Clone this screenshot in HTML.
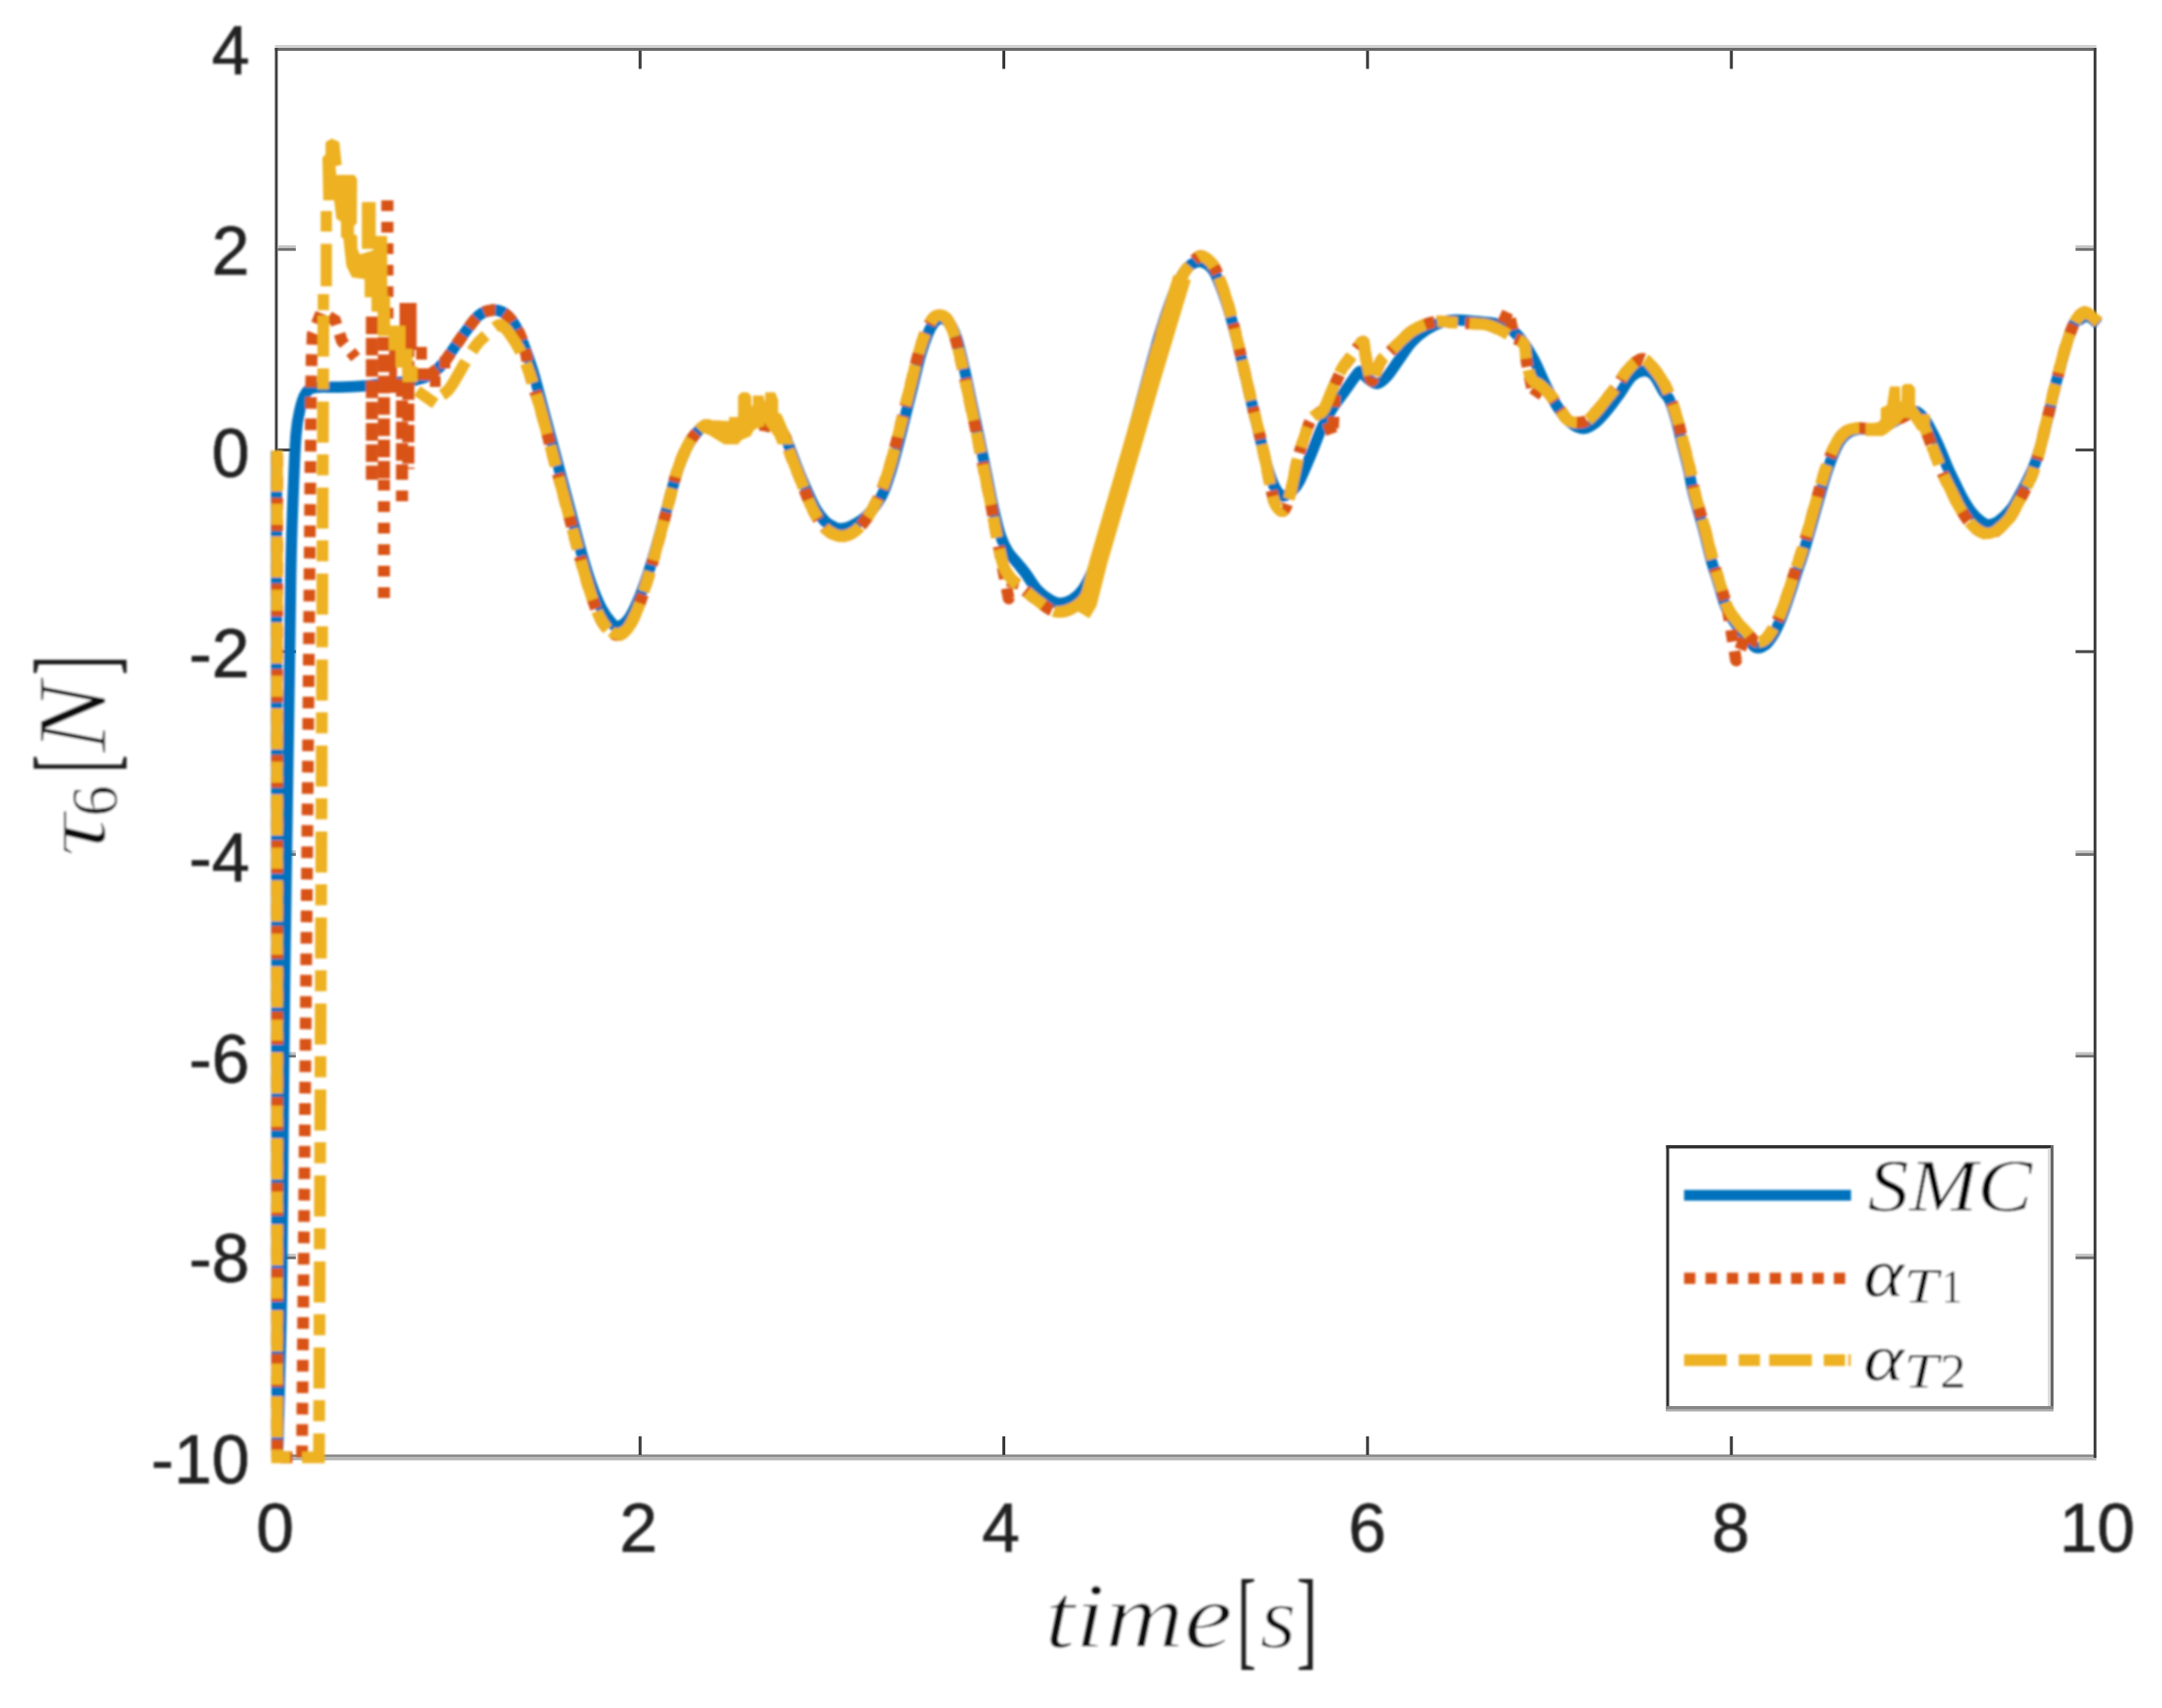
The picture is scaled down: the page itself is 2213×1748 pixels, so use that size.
<!DOCTYPE html>
<html><head><meta charset="utf-8"><title>tau6</title>
<style>
html,body{margin:0;padding:0;background:#fff;}
svg{display:block}
.tk{font-family:"Liberation Sans",sans-serif;font-size:69.5px;fill:#222;stroke:#222;stroke-width:0.7px}
.it{font-family:"Liberation Serif",serif;font-style:italic}
.rm{font-family:"Liberation Serif",serif}
.ln{fill:none;stroke-linejoin:round}
</style></head><body>
<svg width="2213" height="1748" viewBox="0 0 2213 1748">
<defs><filter id="b" x="0" y="0" width="2213" height="1748" filterUnits="userSpaceOnUse"><feGaussianBlur stdDeviation="0.85"/></filter></defs>
<rect width="2213" height="1748" fill="#fff"/>

<rect x="281.4" y="46" width="1864.4" height="3" fill="#d2d2d2"/>
<rect x="281.4" y="49" width="1864.4" height="3" fill="#6a6a6a"/>
<rect x="281.4" y="1488.5" width="1864.4" height="3" fill="#8a8a8a"/>
<rect x="281.4" y="1491.5" width="1864.4" height="3" fill="#b6b6b6"/>
<rect x="281.4" y="49" width="2.9" height="1443" fill="#404040"/>
<rect x="2143" y="49" width="2.9" height="1443" fill="#404040"/>
<rect x="653.7" y="1470" width="3" height="19" fill="#3a3a3a"/>
<rect x="653.7" y="52" width="3" height="18.5" fill="#3a3a3a"/>
<rect x="1026.0" y="1470" width="3" height="19" fill="#3a3a3a"/>
<rect x="1026.0" y="52" width="3" height="18.5" fill="#3a3a3a"/>
<rect x="1398.3" y="1470" width="3" height="19" fill="#3a3a3a"/>
<rect x="1398.3" y="52" width="3" height="18.5" fill="#3a3a3a"/>
<rect x="1770.7" y="1470" width="3" height="19" fill="#3a3a3a"/>
<rect x="1770.7" y="52" width="3" height="18.5" fill="#3a3a3a"/>
<rect x="284.3" y="251.1" width="18.5" height="2.8" fill="#c4c4c4"/>
<rect x="284.3" y="253.9" width="18.5" height="2.8" fill="#707070"/>
<rect x="2124.5" y="251.1" width="18.5" height="2.8" fill="#c4c4c4"/>
<rect x="2124.5" y="253.9" width="18.5" height="2.8" fill="#707070"/>
<rect x="284.3" y="459.0" width="18.5" height="3" fill="#484848"/>
<rect x="2124.5" y="459.0" width="18.5" height="3" fill="#484848"/>
<rect x="284.3" y="665.4" width="18.5" height="3" fill="#484848"/>
<rect x="2124.5" y="665.4" width="18.5" height="3" fill="#484848"/>
<rect x="284.3" y="870.3" width="18.5" height="2.8" fill="#c4c4c4"/>
<rect x="284.3" y="873.1" width="18.5" height="2.8" fill="#707070"/>
<rect x="2124.5" y="870.3" width="18.5" height="2.8" fill="#c4c4c4"/>
<rect x="2124.5" y="873.1" width="18.5" height="2.8" fill="#707070"/>
<rect x="284.3" y="1076.7" width="18.5" height="2.8" fill="#c4c4c4"/>
<rect x="284.3" y="1079.5" width="18.5" height="2.8" fill="#707070"/>
<rect x="2124.5" y="1076.7" width="18.5" height="2.8" fill="#c4c4c4"/>
<rect x="2124.5" y="1079.5" width="18.5" height="2.8" fill="#707070"/>
<rect x="284.3" y="1283.1" width="18.5" height="2.8" fill="#c4c4c4"/>
<rect x="284.3" y="1285.9" width="18.5" height="2.8" fill="#707070"/>
<rect x="2124.5" y="1283.1" width="18.5" height="2.8" fill="#c4c4c4"/>
<rect x="2124.5" y="1285.9" width="18.5" height="2.8" fill="#707070"/>
<rect x="1707" y="1173.7" width="393.5" height="269" fill="#fff"/>
<rect x="1705.5" y="1172" width="396.5" height="3.4" fill="#303030"/>
<rect x="1705.5" y="1172" width="3" height="272" fill="#303030"/>
<rect x="2096" y="1175.4" width="3" height="264" fill="#dcdcdc"/>
<rect x="2099" y="1172" width="3" height="272" fill="#686868"/>
<rect x="1705.5" y="1439" width="396.5" height="3" fill="#858585"/>
<rect x="1705.5" y="1442" width="396.5" height="2.5" fill="#ababab"/>
<g filter="url(#b)">
<g class="ln" stroke-width="11.5">
<path d="M283.0,461.0L283.5,1491.0L284.5,1480.0 M284.5,1480.0C284.8,1466.7 285.8,1430.0 286.5,1400.0C287.2,1370.0 287.7,1366.7 288.5,1300.0C289.3,1233.3 290.2,1100.0 291.5,1000.0C292.8,900.0 294.9,771.7 296.0,700.0C297.1,628.3 297.2,604.2 298.0,570.0C298.8,535.8 299.7,515.8 300.5,495.0C301.3,474.2 302.0,457.5 303.0,445.0C304.0,432.5 305.1,427.1 306.8,420.0C308.4,412.9 310.3,406.4 313.0,402.5C315.7,398.6 317.2,397.5 323.0,396.5C328.8,395.5 339.7,396.5 348.0,396.2C356.3,396.0 365.1,395.6 373.0,395.0C380.9,394.4 387.7,393.3 395.5,392.5C403.3,391.7 412.9,391.2 420.0,390.0C427.1,388.8 432.5,387.9 438.0,385.0C443.5,382.1 448.4,377.5 453.0,372.5C457.6,367.5 461.3,360.8 465.5,355.0C469.7,349.2 473.8,342.9 478.0,337.5C482.2,332.1 486.3,325.8 490.5,322.5C494.7,319.2 498.8,317.9 503.0,317.5C507.2,317.1 511.5,317.5 515.5,320.0C519.5,322.5 523.6,327.1 527.0,332.5C530.4,337.9 532.9,344.6 536.0,352.5C539.1,360.4 542.3,369.6 545.5,380.0C548.7,390.4 551.8,402.9 555.0,415.0C558.2,427.1 561.7,440.0 565.0,452.5C568.3,465.0 571.7,477.5 575.0,490.0C578.3,502.5 581.7,515.0 585.0,527.5C588.3,540.0 591.7,553.3 595.0,565.0C598.3,576.7 601.6,587.9 605.0,597.5C608.4,607.1 612.0,615.8 615.5,622.5C619.0,629.2 623.1,634.4 626.0,637.5C628.9,640.6 630.2,641.6 633.0,641.0C635.8,640.4 639.7,638.3 643.0,634.0C646.3,629.7 649.7,622.7 653.0,615.0C656.3,607.3 659.7,598.0 663.0,588.0C666.3,578.0 669.7,566.5 673.0,555.0C676.3,543.5 679.7,531.0 683.0,519.0C686.3,507.0 689.7,493.2 693.0,483.0C696.3,472.8 699.7,464.7 703.0,458.0C706.3,451.3 709.7,446.7 713.0,443.0C716.3,439.3 718.5,436.3 723.0,436.0C727.5,435.7 734.7,440.2 740.0,441.0C745.3,441.8 750.0,442.2 755.0,441.0C760.0,439.8 765.0,436.3 770.0,434.0C775.0,431.7 780.8,427.3 785.0,427.0C789.2,426.7 791.7,428.2 795.0,432.0C798.3,435.8 801.7,442.7 805.0,450.0C808.3,457.3 811.7,467.7 815.0,476.0C818.3,484.3 821.7,492.5 825.0,500.0C828.3,507.5 831.7,515.3 835.0,521.0C838.3,526.7 841.7,530.8 845.0,534.0C848.3,537.2 852.2,538.8 855.0,540.0C857.8,541.2 859.2,541.3 862.0,541.0C864.8,540.7 867.8,540.2 872.0,538.0C876.2,535.8 881.9,533.1 887.0,528.0C892.1,522.9 898.2,515.5 902.5,507.5C906.8,499.5 909.6,489.2 912.5,480.0C915.4,470.8 917.5,462.1 920.0,452.5C922.5,442.9 925.0,432.5 927.5,422.5C930.0,412.5 932.5,402.5 935.0,392.5C937.5,382.5 940.0,371.1 942.5,362.5C945.0,353.9 947.6,346.6 950.0,341.0C952.4,335.4 954.8,331.5 957.0,329.0C959.2,326.5 961.0,325.7 963.5,326.0C966.0,326.3 969.3,327.5 972.0,331.0C974.7,334.5 977.0,339.3 979.5,347.0C982.0,354.7 984.5,366.2 987.0,377.0C989.5,387.8 992.0,400.3 994.5,412.0C997.0,423.7 999.5,435.0 1002.0,447.0C1004.5,459.0 1007.0,471.7 1009.5,484.0C1012.0,496.3 1014.6,510.3 1017.0,521.0C1019.4,531.7 1021.5,540.7 1024.0,548.0C1026.5,555.3 1029.0,560.2 1032.0,565.0C1035.0,569.8 1039.0,573.3 1042.0,577.0C1045.0,580.7 1046.7,582.5 1050.0,587.0C1053.3,591.5 1057.8,599.5 1062.0,604.0C1066.2,608.5 1071.2,611.8 1075.0,614.0C1078.8,616.2 1081.3,617.5 1085.0,617.5C1088.7,617.5 1093.2,616.2 1097.0,614.0C1100.8,611.8 1104.5,608.8 1108.0,604.0C1111.5,599.2 1114.7,592.8 1118.0,585.0C1121.3,577.2 1124.7,567.3 1128.0,557.0C1131.3,546.7 1134.7,534.8 1138.0,523.0C1141.3,511.2 1144.7,498.3 1148.0,486.0C1151.3,473.7 1154.7,461.5 1158.0,449.0C1161.3,436.5 1164.7,423.5 1168.0,411.0C1171.3,398.5 1174.7,386.0 1178.0,374.0C1181.3,362.0 1184.7,349.8 1188.0,339.0C1191.3,328.2 1194.7,318.0 1198.0,309.0C1201.3,300.0 1204.5,291.3 1208.0,285.0C1211.5,278.7 1215.3,273.8 1219.0,271.0C1222.7,268.2 1226.2,267.0 1230.0,268.0C1233.8,269.0 1238.3,271.7 1242.0,277.0C1245.7,282.3 1249.0,292.0 1252.0,300.0C1255.0,308.0 1257.4,316.0 1260.0,325.0C1262.6,334.0 1265.0,343.8 1267.5,354.0C1270.0,364.2 1272.5,375.3 1275.0,386.0C1277.5,396.7 1280.0,407.5 1282.5,418.0C1285.0,428.5 1287.6,439.2 1290.0,449.0C1292.4,458.8 1294.7,469.0 1297.0,477.0C1299.3,485.0 1301.8,492.2 1304.0,497.0C1306.2,501.8 1308.2,504.2 1310.0,506.0C1311.8,507.8 1313.0,508.0 1315.0,507.5C1317.0,507.0 1319.5,505.5 1322.0,503.0C1324.5,500.5 1326.7,498.8 1330.0,492.5C1333.3,486.2 1338.3,473.8 1342.0,465.0C1345.7,456.2 1348.6,447.5 1352.0,440.0C1355.4,432.5 1358.7,426.2 1362.5,420.0C1366.3,413.8 1370.8,408.3 1375.0,402.5C1379.2,396.7 1384.5,388.8 1387.5,385.0C1390.5,381.2 1390.9,379.6 1393.0,380.0C1395.1,380.4 1397.2,385.4 1400.0,387.5C1402.8,389.6 1406.7,392.9 1410.0,392.5C1413.3,392.1 1416.2,389.2 1420.0,385.0C1423.8,380.8 1428.3,373.3 1432.5,367.5C1436.7,361.7 1440.4,355.0 1445.0,350.0C1449.6,345.0 1455.0,340.8 1460.0,337.5C1465.0,334.2 1470.0,331.7 1475.0,330.0C1480.0,328.3 1483.8,327.7 1490.0,327.5C1496.2,327.3 1505.8,328.4 1512.5,329.0C1519.2,329.6 1524.6,329.8 1530.0,331.0C1535.4,332.2 1540.4,333.2 1545.0,336.0C1549.6,338.8 1553.3,342.7 1557.5,348.0C1561.7,353.3 1565.8,360.2 1570.0,368.0C1574.2,375.8 1578.5,387.0 1582.5,395.0C1586.5,403.0 1589.9,409.8 1594.0,416.0C1598.1,422.2 1602.7,428.2 1607.0,432.0C1611.3,435.8 1615.8,438.3 1620.0,438.5C1624.2,438.7 1628.3,436.1 1632.5,433.0C1636.7,429.9 1640.8,424.9 1645.0,420.0C1649.2,415.1 1653.3,409.2 1657.5,403.5C1661.7,397.8 1665.8,389.5 1670.0,385.5C1674.2,381.5 1679.2,379.8 1683.0,379.5C1686.8,379.2 1689.7,380.4 1693.0,384.0C1696.3,387.6 1700.3,396.8 1703.0,401.0C1705.7,405.2 1706.9,404.8 1709.0,409.5C1711.1,414.2 1713.3,421.4 1715.5,429.0C1717.7,436.6 1719.8,446.3 1722.0,455.0C1724.2,463.7 1726.7,472.9 1728.5,481.0C1730.3,489.1 1730.5,493.6 1733.0,503.7C1735.5,513.8 1740.7,530.4 1743.7,541.8C1746.8,553.2 1748.8,563.0 1751.3,572.2C1753.8,581.4 1756.5,588.9 1759.0,597.0C1761.5,605.1 1763.5,614.0 1766.5,621.0C1769.5,628.0 1773.6,634.0 1777.0,639.0C1780.4,644.0 1783.7,647.1 1787.0,651.0C1790.3,654.9 1793.7,661.0 1797.0,662.5C1800.3,664.0 1803.8,662.4 1807.0,660.0C1810.2,657.6 1813.2,652.7 1816.0,648.0C1818.8,643.3 1821.0,638.2 1823.5,632.0C1826.0,625.8 1828.5,618.3 1831.0,611.0C1833.5,603.7 1836.0,595.7 1838.5,588.0C1841.0,580.3 1843.7,573.2 1846.2,565.0C1848.8,556.8 1851.3,547.8 1853.8,539.0C1856.3,530.2 1858.9,520.8 1861.4,512.0C1863.9,503.2 1866.5,493.8 1869.0,486.0C1871.5,478.2 1874.1,470.9 1876.6,465.0C1879.1,459.1 1881.3,454.3 1884.0,450.5C1886.7,446.7 1889.8,443.9 1893.0,442.0C1896.2,440.1 1899.7,439.5 1903.0,439.0C1906.3,438.5 1909.3,439.2 1913.0,439.0C1916.7,438.8 1920.8,439.2 1925.0,438.0C1929.2,436.8 1933.8,434.2 1938.0,432.0C1942.2,429.8 1946.2,426.8 1950.0,425.0C1953.8,423.2 1957.7,420.3 1961.0,421.0C1964.3,421.7 1967.2,425.3 1970.0,429.0C1972.8,432.7 1975.3,437.8 1978.0,443.0C1980.7,448.2 1983.5,454.3 1986.0,460.0C1988.5,465.7 1990.5,471.3 1993.0,477.0C1995.5,482.7 1998.3,488.5 2001.0,494.0C2003.7,499.5 2006.2,505.0 2009.0,510.0C2011.8,515.0 2015.0,520.2 2018.0,524.0C2021.0,527.8 2024.2,530.8 2027.0,533.0C2029.8,535.2 2032.3,536.7 2035.0,537.0C2037.7,537.3 2040.3,536.3 2043.0,535.0C2045.7,533.7 2048.2,531.5 2051.0,529.0C2053.8,526.5 2056.8,523.7 2059.5,520.0C2062.2,516.3 2064.4,511.7 2067.0,507.0C2069.6,502.3 2072.5,497.0 2075.0,492.0C2077.5,487.0 2079.8,482.5 2082.0,477.0C2084.2,471.5 2086.2,464.8 2088.0,459.0C2089.8,453.2 2091.1,447.5 2092.5,442.0C2093.9,436.5 2095.2,431.3 2096.5,426.0C2097.8,420.7 2099.1,415.3 2100.3,410.0C2101.6,404.7 2102.7,399.3 2104.0,394.0C2105.3,388.7 2107.0,383.0 2108.3,378.0C2109.6,373.0 2110.6,369.0 2112.0,364.0C2113.4,359.0 2114.6,353.7 2116.5,348.0C2118.4,342.3 2121.4,333.5 2123.5,330.0C2125.6,326.5 2127.2,328.1 2129.0,327.0C2130.8,325.9 2132.5,323.7 2134.5,323.5C2136.5,323.3 2138.8,324.6 2141.0,326.0C2143.2,327.4 2146.8,331.0 2148.0,332.0" stroke="#0072BD"/>
<path d="M438.0,385.0C440.5,382.9 448.4,377.5 453.0,372.5C457.6,367.5 461.3,360.8 465.5,355.0C469.7,349.2 473.8,342.9 478.0,337.5C482.2,332.1 486.3,325.8 490.5,322.5C494.7,319.2 498.8,317.9 503.0,317.5C507.2,317.1 511.5,317.5 515.5,320.0C519.5,322.5 523.6,327.1 527.0,332.5C530.4,337.9 533.3,343.8 536.0,352.5C538.7,361.2 540.2,374.2 543.0,385.0C545.8,395.8 549.7,405.8 553.0,417.5C556.3,429.2 559.7,442.5 563.0,455.0C566.3,467.5 569.7,480.0 573.0,492.5C576.3,505.0 579.7,517.5 583.0,530.0C586.3,542.5 589.7,555.4 593.0,567.5C596.3,579.6 599.7,592.1 603.0,602.5C606.3,612.9 609.7,622.9 613.0,630.0C616.3,637.1 619.7,641.7 623.0,645.0C626.3,648.3 629.7,650.4 633.0,650.0C636.3,649.6 639.7,647.1 643.0,642.5C646.3,637.9 649.7,630.8 653.0,622.5C656.3,614.2 659.7,603.3 663.0,592.5C666.3,581.7 669.7,569.6 673.0,557.5C676.3,545.4 679.7,532.5 683.0,520.0C686.3,507.5 689.7,492.9 693.0,482.5C696.3,472.1 699.7,464.2 703.0,457.5C706.3,450.8 709.7,446.2 713.0,442.5C716.3,438.8 719.7,435.4 723.0,435.0C726.3,434.6 729.2,437.9 733.0,440.0C736.8,442.1 741.8,447.5 745.5,447.5C749.2,447.5 750.9,442.2 755.0,440.0C759.1,437.8 762.5,433.7 770.0,434.0C777.5,434.3 793.3,436.4 800.0,442.0C806.7,447.6 806.7,459.1 810.0,467.5C813.3,475.9 816.7,484.2 820.0,492.5C823.3,500.8 826.7,510.4 830.0,517.5C833.3,524.6 836.7,530.4 840.0,535.0C843.3,539.6 846.2,542.7 850.0,545.0C853.8,547.3 858.3,549.0 862.5,548.8C866.7,548.5 870.8,546.9 875.0,543.8C879.2,540.6 883.3,536.0 887.5,530.0C891.7,524.0 896.2,515.8 900.0,507.5C903.8,499.2 907.1,489.2 910.0,480.0C912.9,470.8 915.0,462.1 917.5,452.5C920.0,442.9 922.5,432.5 925.0,422.5C927.5,412.5 930.0,402.5 932.5,392.5C935.0,382.5 937.5,371.2 940.0,362.5C942.5,353.8 945.0,346.1 947.5,340.0C950.0,333.9 952.5,328.9 955.0,326.0C957.5,323.1 960.0,322.2 962.5,322.5C965.0,322.8 967.5,323.8 970.0,327.5C972.5,331.2 975.0,337.1 977.5,345.0C980.0,352.9 982.5,364.2 985.0,375.0C987.5,385.8 990.0,398.3 992.5,410.0C995.0,421.7 997.5,432.9 1000.0,445.0C1002.5,457.1 1005.0,470.0 1007.5,482.5C1010.0,495.0 1012.8,508.3 1015.0,520.0C1017.2,531.7 1020.0,547.1 1021.0,552.5L1032.5,612.5L1037.5,595.0L1037.5,595.0C1039.6,596.7 1045.8,601.7 1050.0,605.0C1054.2,608.3 1058.3,611.9 1062.5,615.0C1066.7,618.1 1071.2,621.9 1075.0,623.8C1078.8,625.6 1081.2,626.5 1085.0,626.2C1088.8,626.0 1093.3,624.8 1097.5,622.5C1101.7,620.2 1106.2,617.9 1110.0,612.5C1113.8,607.1 1116.7,599.2 1120.0,590.0C1123.3,580.8 1126.7,568.8 1130.0,557.5C1133.3,546.2 1136.7,534.6 1140.0,522.5C1143.3,510.4 1146.7,497.5 1150.0,485.0C1153.3,472.5 1156.7,460.0 1160.0,447.5C1163.3,435.0 1166.7,422.5 1170.0,410.0C1173.3,397.5 1176.7,384.6 1180.0,372.5C1183.3,360.4 1186.7,348.3 1190.0,337.5C1193.3,326.7 1196.7,316.7 1200.0,307.5C1203.3,298.3 1206.2,289.4 1210.0,282.5C1213.8,275.6 1219.0,269.3 1222.5,266.0C1226.0,262.7 1227.7,261.4 1231.0,262.5C1234.3,263.6 1238.9,266.7 1242.5,272.5C1246.1,278.3 1249.6,289.2 1252.5,297.5C1255.4,305.8 1257.5,313.3 1260.0,322.5C1262.5,331.7 1265.0,342.1 1267.5,352.5C1270.0,362.9 1272.5,374.2 1275.0,385.0C1277.5,395.8 1280.0,407.1 1282.5,417.5C1285.0,427.9 1287.8,437.9 1290.0,447.5C1292.2,457.1 1294.2,466.2 1296.0,475.0C1297.8,483.8 1299.3,492.9 1301.0,500.0C1302.7,507.1 1303.8,513.8 1306.0,517.5C1308.2,521.2 1311.7,524.1 1314.0,522.5C1316.3,520.9 1318.3,513.4 1320.0,508.0C1321.7,502.6 1322.5,496.7 1324.0,490.0C1325.5,483.3 1326.9,475.0 1328.7,468.0C1330.5,461.0 1332.9,454.3 1335.0,448.0C1337.1,441.7 1339.3,434.0 1341.5,430.0C1343.7,426.0 1345.8,425.7 1348.0,424.0C1350.2,422.3 1353.3,420.7 1354.4,420.0L1364.0,446.0L1367.0,392.0L1373.8,377.0C1375.3,375.0 1380.1,368.7 1382.8,365.0C1385.5,361.3 1387.8,357.5 1390.0,355.0C1392.2,352.5 1394.4,348.3 1395.7,350.0C1397.0,351.7 1396.7,358.5 1398.0,365.0C1399.3,371.5 1401.7,386.2 1403.4,389.0C1405.1,391.8 1406.3,385.3 1408.0,382.0C1409.7,378.7 1411.2,372.7 1413.7,369.0C1416.2,365.3 1418.8,363.8 1422.7,360.0C1426.6,356.2 1433.2,349.5 1436.9,346.0C1440.6,342.5 1441.6,341.2 1445.0,339.0C1448.4,336.8 1452.9,334.2 1457.5,332.5C1462.1,330.8 1467.5,329.2 1472.5,328.8C1477.5,328.3 1482.1,329.6 1487.5,330.0C1492.9,330.4 1499.2,330.6 1505.0,331.0C1510.8,331.4 1517.5,331.4 1522.5,332.5C1527.5,333.6 1532.9,336.7 1535.0,337.5L1544.0,318.0L1550.0,346.0L1550.0,346.0C1551.7,347.1 1557.9,348.5 1560.0,352.5C1562.1,356.5 1562.1,367.1 1562.5,370.0L1570.0,406.0L1577.5,395.0L1577.5,395.0C1579.2,396.7 1584.2,400.8 1587.5,405.0C1590.8,409.2 1594.6,415.8 1597.5,420.0C1600.4,424.2 1602.1,427.9 1605.0,430.0C1607.9,432.1 1611.7,432.5 1615.0,432.5C1618.3,432.5 1621.7,432.1 1625.0,430.0C1628.3,427.9 1631.7,423.8 1635.0,420.0C1638.3,416.2 1641.7,411.7 1645.0,407.5C1648.3,403.3 1651.7,399.6 1655.0,395.0C1658.3,390.4 1661.7,384.2 1665.0,380.0C1668.3,375.8 1672.0,372.1 1675.0,370.0C1678.0,367.9 1680.0,366.2 1683.0,367.5C1686.0,368.8 1689.7,373.4 1693.0,377.5C1696.3,381.6 1700.1,386.7 1703.0,392.0C1705.9,397.3 1708.3,403.3 1710.6,409.5C1712.9,415.7 1714.8,421.4 1717.0,429.0C1719.2,436.6 1721.3,446.3 1723.5,455.0C1725.7,463.7 1728.2,472.9 1730.0,481.0C1731.8,489.1 1732.1,493.6 1734.6,503.7C1737.1,513.8 1742.2,530.4 1745.2,541.8C1748.2,553.2 1750.3,563.0 1752.8,572.2C1755.3,581.4 1757.9,588.9 1760.4,597.0C1762.9,605.1 1766.7,616.9 1768.0,620.9L1777.0,676.0L1788.0,647.0L1788.0,647.0C1789.5,648.6 1794.0,655.2 1797.0,656.5C1800.0,657.8 1803.2,656.9 1806.0,655.0C1808.8,653.1 1811.5,649.0 1814.0,645.0C1816.5,641.0 1818.8,636.8 1821.3,631.0C1823.8,625.2 1826.5,617.6 1829.0,610.3C1831.5,603.0 1834.0,595.0 1836.5,587.4C1839.0,579.8 1841.7,572.7 1844.2,564.6C1846.8,556.5 1849.3,547.6 1851.8,538.7C1854.3,529.8 1856.9,520.2 1859.4,511.3C1861.9,502.4 1864.5,493.3 1867.0,485.4C1869.5,477.5 1872.1,470.2 1874.6,464.1C1877.1,458.0 1879.4,452.9 1882.2,449.0C1885.0,445.1 1888.0,442.3 1891.3,440.5C1894.6,438.7 1898.4,438.3 1902.0,438.0C1905.6,437.7 1909.1,438.8 1913.0,438.8C1916.9,438.7 1922.2,439.0 1925.5,437.5C1928.8,436.0 1929.8,431.6 1933.0,430.0C1936.2,428.4 1940.8,429.2 1945.0,428.0C1949.2,426.8 1955.0,422.3 1958.0,422.5C1961.0,422.7 1961.0,426.5 1963.0,429.0C1965.0,431.5 1967.6,433.4 1969.8,437.5C1972.0,441.6 1974.2,448.4 1976.4,453.9C1978.6,459.4 1980.8,464.8 1983.0,470.3C1985.2,475.8 1987.0,481.2 1989.5,486.7C1992.0,492.2 1995.0,497.6 1997.7,503.1C2000.4,508.6 2002.9,514.3 2005.9,519.5C2008.9,524.7 2012.4,530.3 2015.7,534.3C2019.0,538.3 2022.5,541.3 2025.6,543.3C2028.7,545.3 2031.7,546.3 2034.4,546.5C2037.1,546.7 2039.6,545.8 2042.0,544.5C2044.4,543.2 2046.4,541.0 2049.0,538.5C2051.6,536.0 2054.8,533.2 2057.5,529.5C2060.2,525.8 2062.4,521.0 2065.0,516.2C2067.6,511.5 2070.5,506.0 2073.0,501.0C2075.5,496.0 2077.9,491.6 2080.0,486.0C2082.1,480.4 2084.1,473.4 2085.8,467.7C2087.5,462.0 2088.7,457.3 2090.0,452.0C2091.3,446.7 2092.3,441.3 2093.6,436.0C2094.9,430.7 2096.4,425.3 2097.7,420.0C2099.0,414.7 2099.9,409.5 2101.3,404.0C2102.7,398.5 2104.5,392.3 2105.9,387.0C2107.3,381.7 2108.1,377.2 2109.5,372.0C2110.9,366.8 2112.1,361.9 2114.1,355.6C2116.1,349.3 2119.3,339.5 2121.5,334.3C2123.7,329.1 2125.1,326.9 2127.2,324.4C2129.2,321.9 2131.6,319.8 2133.8,319.5C2136.0,319.2 2137.9,321.1 2140.3,322.8C2142.7,324.6 2146.7,328.8 2148.0,330.0" stroke="#D95319" stroke-dasharray="12 9.9" stroke-width="12"/>
<path d="M283.7,461.0L283.7,1491.5L309.1,1491.5L318.5,392.0L319.0,365.0L320.0,342.0L329.0,319.5L343.0,328.0L350.0,349.0L364.0,366.0" stroke="#D95319" stroke-dasharray="12 9.9" stroke-dashoffset="-4.8" stroke-width="12" stroke-linejoin="miter"/><g stroke="#D95319" stroke-width="12.4"><path d="M380.7,323V491" stroke-dasharray="18 3.8" stroke-dashoffset="-1"/><path d="M393,345V491" stroke-dasharray="18 3.8" stroke-dashoffset="4"/><path d="M393,491V616" stroke-dasharray="11 11" stroke-dashoffset="0"/><path d="M396.5,205V335" stroke-dasharray="11 11"/><path d="M402.3,343V402" stroke-width="8"/><path d="M417.7,310V358" stroke-width="17.5"/><path d="M411.5,388V491M411.5,502V513" stroke-dasharray="18 3.8"/><path d="M418,310V480" stroke-dasharray="18 3.8" stroke-dashoffset="6"/></g><g fill="#D95319"><rect x="426" y="355" width="11" height="13"/><rect x="427" y="377" width="13" height="12"/><rect x="440" y="385" width="11" height="11"/><rect x="450" y="365" width="11" height="12"/></g>
<path d="M283.6,461.0L283.6,1491.5L326.5,1491.5L331.0,322.0" stroke="#EDB120" stroke-dasharray="42 12.5 21.5 12" stroke-linejoin="miter" stroke-width="12"/>
<path d="M444.0,409.0C446.3,407.5 454.0,404.0 458.0,400.0C462.0,396.0 464.7,390.4 468.0,385.0C471.3,379.6 474.7,372.9 478.0,367.5C481.3,362.1 484.7,356.7 488.0,352.5C491.3,348.3 494.7,345.6 498.0,342.5C501.3,339.4 505.5,335.6 508.0,334.0C510.5,332.4 510.9,332.0 513.0,333.0C515.1,334.0 517.2,335.5 520.5,340.0C523.8,344.5 529.2,352.5 533.0,360.0C536.8,367.5 539.7,375.4 543.0,385.0C546.3,394.6 549.7,405.8 553.0,417.5C556.3,429.2 559.7,442.5 563.0,455.0C566.3,467.5 569.7,480.0 573.0,492.5C576.3,505.0 579.7,517.5 583.0,530.0C586.3,542.5 589.7,555.4 593.0,567.5C596.3,579.6 599.7,592.1 603.0,602.5C606.3,612.9 609.7,622.9 613.0,630.0C616.3,637.1 619.7,641.7 623.0,645.0C626.3,648.3 629.7,650.4 633.0,650.0C636.3,649.6 639.7,647.1 643.0,642.5C646.3,637.9 649.7,630.8 653.0,622.5C656.3,614.2 659.7,603.3 663.0,592.5C666.3,581.7 669.7,569.6 673.0,557.5C676.3,545.4 679.7,532.5 683.0,520.0C686.3,507.5 689.7,492.9 693.0,482.5C696.3,472.1 699.7,464.2 703.0,457.5C706.3,450.8 709.7,446.2 713.0,442.5C716.3,438.8 719.7,435.4 723.0,435.0C726.3,434.6 729.2,437.9 733.0,440.0C736.8,442.1 741.8,447.5 745.5,447.5C749.2,447.5 753.4,441.2 755.0,440.0L775.0,432.0L790.0,428.0L800.0,442.0L800.0,442.0C801.7,446.2 806.7,459.1 810.0,467.5C813.3,475.9 816.7,484.2 820.0,492.5C823.3,500.8 826.7,510.4 830.0,517.5C833.3,524.6 836.7,530.4 840.0,535.0C843.3,539.6 846.2,542.7 850.0,545.0C853.8,547.3 858.3,549.0 862.5,548.8C866.7,548.5 870.8,546.9 875.0,543.8C879.2,540.6 883.3,536.0 887.5,530.0C891.7,524.0 896.2,515.8 900.0,507.5C903.8,499.2 907.1,489.2 910.0,480.0C912.9,470.8 915.0,462.1 917.5,452.5C920.0,442.9 922.5,432.5 925.0,422.5C927.5,412.5 930.0,402.5 932.5,392.5C935.0,382.5 937.5,371.2 940.0,362.5C942.5,353.8 945.0,346.1 947.5,340.0C950.0,333.9 952.5,328.9 955.0,326.0C957.5,323.1 960.0,322.2 962.5,322.5C965.0,322.8 967.5,323.8 970.0,327.5C972.5,331.2 975.0,337.1 977.5,345.0C980.0,352.9 982.5,364.2 985.0,375.0C987.5,385.8 990.0,398.3 992.5,410.0C995.0,421.7 997.5,432.9 1000.0,445.0C1002.5,457.1 1005.0,470.0 1007.5,482.5C1010.0,495.0 1012.8,508.3 1015.0,520.0C1017.2,531.7 1018.9,542.5 1021.0,552.5C1023.1,562.5 1024.8,572.9 1027.5,580.0C1030.2,587.1 1033.8,590.8 1037.5,595.0C1041.2,599.2 1045.8,601.7 1050.0,605.0C1054.2,608.3 1058.3,611.9 1062.5,615.0C1066.7,618.1 1071.2,621.9 1075.0,623.8C1078.8,625.6 1081.2,626.5 1085.0,626.2C1088.8,626.0 1093.3,624.8 1097.5,622.5C1101.7,620.2 1106.2,617.9 1110.0,612.5C1113.8,607.1 1116.7,599.2 1120.0,590.0C1123.3,580.8 1126.7,568.8 1130.0,557.5C1133.3,546.2 1136.7,534.6 1140.0,522.5C1143.3,510.4 1146.7,497.5 1150.0,485.0C1153.3,472.5 1156.7,460.0 1160.0,447.5C1163.3,435.0 1166.7,422.5 1170.0,410.0C1173.3,397.5 1176.7,384.6 1180.0,372.5C1183.3,360.4 1186.7,348.3 1190.0,337.5C1193.3,326.7 1196.7,316.7 1200.0,307.5C1203.3,298.3 1206.2,289.4 1210.0,282.5C1213.8,275.6 1219.0,269.3 1222.5,266.0C1226.0,262.7 1227.7,261.4 1231.0,262.5C1234.3,263.6 1238.9,266.7 1242.5,272.5C1246.1,278.3 1249.6,289.2 1252.5,297.5C1255.4,305.8 1257.5,313.3 1260.0,322.5C1262.5,331.7 1265.0,342.1 1267.5,352.5C1270.0,362.9 1272.5,374.2 1275.0,385.0C1277.5,395.8 1280.0,407.1 1282.5,417.5C1285.0,427.9 1287.8,437.9 1290.0,447.5C1292.2,457.1 1294.2,466.2 1296.0,475.0C1297.8,483.8 1299.3,492.9 1301.0,500.0C1302.7,507.1 1303.8,513.8 1306.0,517.5C1308.2,521.2 1311.7,524.1 1314.0,522.5C1316.3,520.9 1318.3,513.4 1320.0,508.0C1321.7,502.6 1322.5,496.7 1324.0,490.0C1325.5,483.3 1326.9,475.0 1328.7,468.0C1330.5,461.0 1332.9,454.3 1335.0,448.0C1337.1,441.7 1339.3,434.0 1341.5,430.0C1343.7,426.0 1345.8,425.7 1348.0,424.0C1350.2,422.3 1351.7,424.3 1354.4,420.0C1357.1,415.7 1360.8,405.2 1364.0,398.0C1367.2,390.8 1370.7,382.5 1373.8,377.0C1376.9,371.5 1380.1,368.7 1382.8,365.0C1385.5,361.3 1387.8,357.5 1390.0,355.0C1392.2,352.5 1394.4,348.3 1395.7,350.0C1397.0,351.7 1396.7,358.5 1398.0,365.0C1399.3,371.5 1401.7,386.2 1403.4,389.0C1405.1,391.8 1406.3,385.3 1408.0,382.0C1409.7,378.7 1411.2,372.7 1413.7,369.0C1416.2,365.3 1418.8,363.8 1422.7,360.0C1426.6,356.2 1433.2,349.5 1436.9,346.0C1440.6,342.5 1441.6,341.2 1445.0,339.0C1448.4,336.8 1452.9,334.2 1457.5,332.5C1462.1,330.8 1467.5,329.2 1472.5,328.8C1477.5,328.3 1482.1,329.6 1487.5,330.0C1492.9,330.4 1499.2,330.6 1505.0,331.0C1510.8,331.4 1517.5,331.4 1522.5,332.5C1527.5,333.6 1530.4,335.2 1535.0,337.5C1539.6,339.8 1545.8,343.5 1550.0,346.0C1554.2,348.5 1557.9,348.5 1560.0,352.5C1562.1,356.5 1561.2,364.2 1562.5,370.0C1563.8,375.8 1565.0,383.3 1567.5,387.5C1570.0,391.7 1574.2,392.1 1577.5,395.0C1580.8,397.9 1584.2,400.8 1587.5,405.0C1590.8,409.2 1594.6,415.8 1597.5,420.0C1600.4,424.2 1602.1,427.9 1605.0,430.0C1607.9,432.1 1611.7,432.5 1615.0,432.5C1618.3,432.5 1621.7,432.1 1625.0,430.0C1628.3,427.9 1631.7,423.8 1635.0,420.0C1638.3,416.2 1641.7,411.7 1645.0,407.5C1648.3,403.3 1651.7,399.6 1655.0,395.0C1658.3,390.4 1661.7,384.2 1665.0,380.0C1668.3,375.8 1672.0,372.1 1675.0,370.0C1678.0,367.9 1680.0,366.2 1683.0,367.5C1686.0,368.8 1689.7,373.4 1693.0,377.5C1696.3,381.6 1700.1,386.7 1703.0,392.0C1705.9,397.3 1708.3,403.3 1710.6,409.5C1712.9,415.7 1714.8,421.4 1717.0,429.0C1719.2,436.6 1721.3,446.3 1723.5,455.0C1725.7,463.7 1728.2,472.9 1730.0,481.0C1731.8,489.1 1732.1,493.6 1734.6,503.7C1737.1,513.8 1742.2,530.4 1745.2,541.8C1748.2,553.2 1750.3,563.0 1752.8,572.2C1755.3,581.4 1757.9,588.9 1760.4,597.0C1762.9,605.1 1765.0,614.2 1768.0,620.9C1771.0,627.6 1775.4,632.6 1778.7,637.0C1782.0,641.4 1785.0,643.8 1788.0,647.0C1791.0,650.2 1794.0,655.2 1797.0,656.5C1800.0,657.8 1803.2,656.9 1806.0,655.0C1808.8,653.1 1811.5,649.0 1814.0,645.0C1816.5,641.0 1818.8,636.8 1821.3,631.0C1823.8,625.2 1826.5,617.6 1829.0,610.3C1831.5,603.0 1834.0,595.0 1836.5,587.4C1839.0,579.8 1841.7,572.7 1844.2,564.6C1846.8,556.5 1849.3,547.6 1851.8,538.7C1854.3,529.8 1856.9,520.2 1859.4,511.3C1861.9,502.4 1864.5,493.3 1867.0,485.4C1869.5,477.5 1872.1,470.2 1874.6,464.1C1877.1,458.0 1879.4,452.9 1882.2,449.0C1885.0,445.1 1888.0,442.3 1891.3,440.5C1894.6,438.7 1898.4,438.3 1902.0,438.0C1905.6,437.7 1909.1,438.8 1913.0,438.8C1916.9,438.7 1922.2,439.0 1925.5,437.5C1928.8,436.0 1931.8,431.2 1933.0,430.0L1945.0,420.0L1958.0,422.5L1958.0,422.5C1958.8,423.6 1961.0,426.5 1963.0,429.0C1965.0,431.5 1967.6,433.4 1969.8,437.5C1972.0,441.6 1974.2,448.4 1976.4,453.9C1978.6,459.4 1980.8,464.8 1983.0,470.3C1985.2,475.8 1987.0,481.2 1989.5,486.7C1992.0,492.2 1995.0,497.6 1997.7,503.1C2000.4,508.6 2002.9,514.3 2005.9,519.5C2008.9,524.7 2012.4,530.3 2015.7,534.3C2019.0,538.3 2022.5,541.3 2025.6,543.3C2028.7,545.3 2031.7,546.3 2034.4,546.5C2037.1,546.7 2039.6,545.8 2042.0,544.5C2044.4,543.2 2046.4,541.0 2049.0,538.5C2051.6,536.0 2054.8,533.2 2057.5,529.5C2060.2,525.8 2062.4,521.0 2065.0,516.2C2067.6,511.5 2070.5,506.0 2073.0,501.0C2075.5,496.0 2077.9,491.6 2080.0,486.0C2082.1,480.4 2084.1,473.4 2085.8,467.7C2087.5,462.0 2088.7,457.3 2090.0,452.0C2091.3,446.7 2092.3,441.3 2093.6,436.0C2094.9,430.7 2096.4,425.3 2097.7,420.0C2099.0,414.7 2099.9,409.5 2101.3,404.0C2102.7,398.5 2104.5,392.3 2105.9,387.0C2107.3,381.7 2108.1,377.2 2109.5,372.0C2110.9,366.8 2112.1,361.9 2114.1,355.6C2116.1,349.3 2119.3,339.5 2121.5,334.3C2123.7,329.1 2125.1,326.9 2127.2,324.4C2129.2,321.9 2131.6,319.8 2133.8,319.5C2136.0,319.2 2137.9,321.1 2140.3,322.8C2142.7,324.6 2146.7,328.8 2148.0,330.0" stroke="#EDB120" stroke-dasharray="42 12.5 21.5 12" stroke-dashoffset="78" stroke-width="12"/>
<path d="M718.9,431.1L734.4,431.1L747.0,431.8L747.0,427.4L756.2,427.4L756.2,405.5L759.2,402.2L765.1,402.2L768.1,405.5L768.5,416.3L771.4,416.3L771.4,405.5L781.0,405.5L781.8,411.1L784.0,411.1L784.0,402.2L792.9,402.2L795.8,409.6L795.8,422.9L799.2,424.4L802.5,431.8L805.5,439.2L811.4,454.0L799.5,454.0L796.6,454.0L793.6,446.6L787.7,438.5L782.5,431.8L777.3,434.8L771.4,439.2L767.7,445.9L758.8,449.6L755.1,454.0L741.8,454.0L734.4,449.6L727.0,445.1L721.8,442.9L718.9,437.7ZM1910.3,433.7L1925.9,433.7L1925.9,418.1L1932.2,415.2L1935.1,396.3L1944.0,396.3L1944.4,411.5L1947.0,411.5L1947.3,395.9L1949.9,393.7L1956.2,393.7L1959.6,397.4L1959.6,415.2L1963.6,421.8L1963.6,424.8L1974.7,424.8L1974.7,433.7L1971.8,439.6L1963.3,439.6L1959.9,433.7L1956.2,427.0L1948.1,427.0L1943.6,432.9L1931.8,442.5L1926.6,445.5L1910.3,445.5Z" fill="#EDB120" stroke="#EDB120" stroke-width="1.5"/><path d="M1107,628L1113.7,617L1124.3,575L1142.7,512L1161.2,448.6L1179.5,385.4L1198.5,322L1210,284" stroke="#EDB120" stroke-width="18.5"/><path d="M331,317.5V301M334,293V249.5M334,237V216M427,400L445.5,413M2126,326L2133.8,319.5L2140.3,322.8L2148,330M2027,544Q2035,549 2046,541.5M625.5,646.5Q633,652 641.5,644" stroke-linejoin="round" fill="none" stroke="#EDB120" stroke-width="11.5"/><path d="M339.5,142.6L346.6,145.8L349.0,167.9L342.7,169.5L343.5,179.8L362.4,179.8L364.8,183.7L364.5,228.0L361.6,231.2L361.6,240.6L364.8,241.4L365.1,254.9L368.0,261.2L383.0,256.8L383.0,254.1L371.1,254.1L371.1,207.4L383.8,207.4L383.8,242.2L395.6,242.2L395.6,288.1L396.0,303.4L398.6,303.4L398.6,334.0L414.4,334.0L414.4,357.8L421.5,357.8L421.5,375.4L426.7,375.4L426.7,390.3L412.7,390.3L412.7,375.4L405.6,375.4L405.6,357.8L398.6,357.8L398.6,342.9L387.2,342.9L387.2,318.3L381.0,318.3L381.0,303.4L374.0,303.4L374.0,284.9L360.9,283.3L355.3,272.2L352.2,243.8L349.8,242.2L349.8,226.4L345.0,223.3L342.7,204.3L331.6,204.3L330.8,161.6L334.0,158.4L334.0,145.8Z" fill="#EDB120" stroke="#EDB120" stroke-width="1.5"/>
</g>
<path d="M1723.8,1223.3H1894.7" stroke="#0072BD" stroke-width="11" fill="none"/>
<path d="M1723.8,1308.2H1894.7" stroke="#D95319" stroke-width="11.5" stroke-dasharray="11.6 10.3" fill="none"/>
<path d="M1723.8,1392H1894.7" stroke="#EDB120" stroke-width="12" stroke-dasharray="43.7 12.2 21.8 9.4" fill="none"/>
<rect x="1891.6" y="1386" width="3.1" height="12" fill="#EDB120" opacity="0.8"/>
<text class="it" transform="translate(1911.76,1238.99) scale(0.8425,0.7552)" font-size="100" fill="#000" stroke="#fff" stroke-width="0.9" vector-effect="non-scaling-stroke">SMC</text>
<text class="it" transform="translate(1907.53,1326.01) scale(0.7902,0.6896)" font-size="100" fill="#000" stroke="#fff" stroke-width="0.6" vector-effect="non-scaling-stroke">α</text>
<text class="it" transform="translate(1948.75,1333.20) scale(0.6352,0.5031)" font-size="100" fill="#000" stroke="#fff" stroke-width="0.6" vector-effect="non-scaling-stroke">T</text>
<text class="rm" transform="translate(1987.14,1333.20) scale(0.4286,0.4803)" font-size="100" fill="#000" stroke="#fff" stroke-width="0.6" vector-effect="non-scaling-stroke">1</text>
<text class="it" transform="translate(1907.53,1411.82) scale(0.7902,0.6771)" font-size="100" fill="#000" stroke="#fff" stroke-width="0.6" vector-effect="non-scaling-stroke">α</text>
<text class="it" transform="translate(1948.75,1419.80) scale(0.6352,0.5046)" font-size="100" fill="#000" stroke="#fff" stroke-width="0.6" vector-effect="non-scaling-stroke">T</text>
<text class="rm" transform="translate(1985.86,1419.80) scale(0.5350,0.5046)" font-size="100" fill="#000" stroke="#fff" stroke-width="0.6" vector-effect="non-scaling-stroke">2</text>
<text class="it" transform="translate(1069.13,1686.26) scale(1.1181,0.9424)" font-size="100" fill="#0a0a0a" stroke="#fff" stroke-width="1.5" vector-effect="non-scaling-stroke">time</text>
<text class="rm" transform="translate(1266.55,1693.92) scale(0.5783,1.1293)" font-size="100" fill="#1a1a1a" stroke="#fff" stroke-width="0" vector-effect="non-scaling-stroke">[</text>
<text class="it" transform="translate(1289.43,1686.39) scale(0.9657,0.9062)" font-size="100" fill="#0a0a0a" stroke="#fff" stroke-width="1.5" vector-effect="non-scaling-stroke">s</text>
<text class="rm" transform="translate(1327.12,1693.92) scale(0.6455,1.1293)" font-size="100" fill="#1a1a1a" stroke="#fff" stroke-width="0" vector-effect="non-scaling-stroke">]</text>
<g transform="translate(107.5,875) rotate(-90)">
<text class="it" transform="translate(-2.74,0.08) scale(1.2676,0.9234)" font-size="100" fill="#0a0a0a" stroke="#fff" stroke-width="2.3" vector-effect="non-scaling-stroke">τ</text>
<text class="rm" transform="translate(39.23,12.45) scale(0.6419,0.6731)" font-size="100" fill="#0a0a0a" stroke="#fff" stroke-width="1.0" vector-effect="non-scaling-stroke">6</text>
<text class="rm" transform="translate(84.20,6.72) scale(0.5435,1.1366)" font-size="100" fill="#1a1a1a" stroke="#fff" stroke-width="0" vector-effect="non-scaling-stroke">[</text>
<text class="it" transform="translate(104.49,0.50) scale(1.0931,1.0262)" font-size="100" fill="#0a0a0a" stroke="#fff" stroke-width="1.5" vector-effect="non-scaling-stroke">N</text>
<text class="rm" transform="translate(183.96,6.72) scale(0.6091,1.1366)" font-size="100" fill="#1a1a1a" stroke="#fff" stroke-width="0" vector-effect="non-scaling-stroke">]</text>
</g>
<text class="tk" x="281.7" y="1587.6" text-anchor="middle">0</text>
<text class="tk" x="653.7" y="1587.6" text-anchor="middle">2</text>
<text class="tk" x="1024.6" y="1587.6" text-anchor="middle">4</text>
<text class="tk" x="1399.7" y="1587.6" text-anchor="middle">6</text>
<text class="tk" x="1771.6" y="1587.6" text-anchor="middle">8</text>
<text class="tk" x="2146.6" y="1587.6" text-anchor="middle">10</text>
<text class="tk" x="255.3" y="75.6" text-anchor="end">4</text>
<text class="tk" x="255.3" y="280.6" text-anchor="end">2</text>
<text class="tk" x="255.3" y="488.1" text-anchor="end">0</text>
<text class="tk" x="255.3" y="693.1" text-anchor="end">-2</text>
<text class="tk" x="255.3" y="901.5" text-anchor="end">-4</text>
<text class="tk" x="255.3" y="1107.6" text-anchor="end">-6</text>
<text class="tk" x="255.3" y="1312.0" text-anchor="end">-8</text>
<text class="tk" x="255.3" y="1518.4" text-anchor="end">-10</text>
</g>
</svg></body></html>
